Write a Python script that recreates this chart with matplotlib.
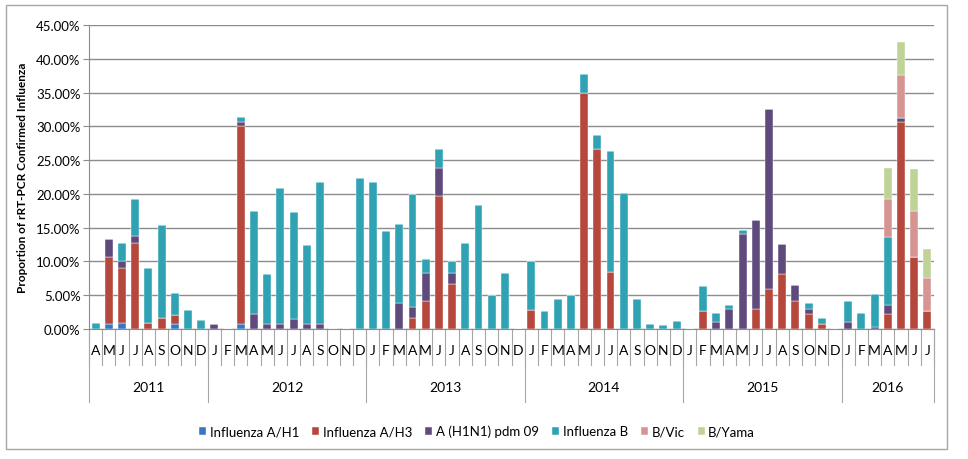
import matplotlib
matplotlib.use("Agg")
import matplotlib.pyplot as plt
import numpy as np
from matplotlib.ticker import FuncFormatter, MultipleLocator

plt.rcParams["font.family"] = ["Lato", "DejaVu Sans"]

years = ["2011", "2012", "2013", "2014", "2015", "2016"]
year_months = [
    list("AMJJASOND"),
    list("JFMAMJJASOND"),
    list("JFMAMJJASOND"),
    list("JFMAMJJASOND"),
    list("JFMAMJJASOND"),
    list("JFMAMJJ"),
]

h1 = [0, 0.8, 0.9, 0, 0, 0, 0.7, 0, 0,
      0, 0, 0.7, 0, 0, 0, 0, 0, 0, 0, 0, 0,
      0, 0, 0, 0, 0, 0, 0, 0, 0, 0, 0, 0,
      0, 0, 0, 0, 0, 0, 0, 0, 0, 0, 0, 0,
      0, 0, 0, 0, 0, 0, 0, 0, 0, 0, 0, 0,
      0, 0, 0, 0, 0, 0, 0]
h3 = [0, 9.8, 8.2, 12.8, 0.9, 1.6, 1.3, 0, 0,
      0, 0, 29.3, 0, 0, 0, 0, 0, 0, 0, 0, 0,
      0, 0, 0, 1.7, 4.1, 19.7, 6.7, 0, 0, 0, 0, 0,
      2.8, 0, 0, 0, 35.0, 26.6, 8.5, 0, 0, 0, 0, 0,
      0, 2.7, 0, 0, 0, 3.0, 5.9, 8.1, 4.1, 2.2, 0.8, 0,
      0, 0, 0, 2.2, 30.7, 10.6, 2.6]
pdm09 = [0, 2.7, 0.9, 0.9, 0, 0, 0, 0, 0,
         0.7, 0, 0.7, 2.2, 0.7, 0.7, 1.5, 0.7, 0.7, 0, 0, 0,
         0, 0, 3.9, 1.6, 4.2, 4.2, 1.6, 0, 0, 0, 0, 0,
         0, 0, 0, 0, 0, 0, 0, 0, 0, 0, 0, 0,
         0, 0, 1.1, 3.0, 14.1, 13.1, 26.7, 4.5, 2.4, 0.8, 0, 0,
         1.1, 0, 0.35, 1.3, 0.5, 0, 0]
flu_b = [0.9, 0, 2.7, 5.5, 8.1, 13.8, 3.4, 2.8, 1.4,
         0, 0, 0.7, 15.3, 7.5, 20.2, 15.8, 11.8, 21.0, 0, 0, 22.4,
         21.7, 14.5, 11.7, 16.7, 2.1, 2.8, 1.7, 12.8, 18.3, 5.0, 8.3, 0,
         7.2, 2.7, 4.5, 5.0, 2.7, 2.1, 17.9, 20.1, 4.4, 0.75, 0.55, 1.2,
         0, 3.6, 1.2, 0.6, 0.6, 0, 0, 0, 0, 0.9, 0.8, 0,
         3.1, 2.3, 4.9, 10.1, 0, 0, 0]
b_vic = [0] * 57 + [0, 0, 0, 5.7, 6.4, 6.8, 5.0]
b_yama = [0] * 57 + [0, 0, 0, 4.5, 4.9, 6.3, 4.3]

series = [
    ("Influenza A/H1", h1, "#3477c4"),
    ("Influenza A/H3", h3, "#b5473c"),
    ("A (H1N1) pdm 09", pdm09, "#5f4a7d"),
    ("Influenza B", flu_b, "#2fa2b3"),
    ("B/Vic", b_vic, "#d69592"),
    ("B/Yama", b_yama, "#bfd396"),
]

months = [m for ms in year_months for m in ms]
x = np.arange(len(months))

fig = plt.figure(figsize=(9.68, 4.60), dpi=100)
# chart border
fig.patches.append(plt.Rectangle((6 / 968, 10 / 460), 941 / 968, 444 / 460,
                                 transform=fig.transFigure, fill=False,
                                 edgecolor="#a6a6a6", linewidth=1))
ax = fig.add_axes([89 / 968, 1 - 330 / 460, 845 / 968, 304 / 460])

bottom = np.zeros(len(x))
for name, vals, color in series:
    vals = np.array(vals, dtype=float)
    ax.bar(x, vals, width=0.6, bottom=bottom, color=color, label=name,
           edgecolor="white", linewidth=0.3, zorder=3)
    bottom += vals

ax.set_xlim(-0.5, len(x) - 0.5)
ax.set_ylim(0, 45)
ax.yaxis.set_major_locator(MultipleLocator(5))
ax.yaxis.set_major_formatter(FuncFormatter(lambda v, p: f"{v:.2f}%"))
ax.grid(axis="y", color="#8c8c8c", linewidth=1, zorder=0)
for side in ["top", "right"]:
    ax.spines[side].set_visible(False)
ax.spines["left"].set_color("#8c8c8c")
ax.spines["bottom"].set_color("#8c8c8c")
ax.tick_params(axis="y", labelsize=9.5, length=4, color="#8c8c8c", pad=2)
ax.set_ylabel("Proportion of rRT-PCR Confirmed Influenza", fontsize=8.5,
              fontweight="bold", labelpad=6)

# month labels and separators
ax.set_xticks([])
xt = ax.get_xaxis_transform()
for i, m in enumerate(months):
    ax.text(i, -0.068, m, transform=xt, ha="center", va="center", fontsize=10)
for b in np.arange(-0.5, len(x) - 0.5 + 1):
    ax.plot([b, b], [0, -0.12], transform=xt, color="#a6a6a6", lw=0.8,
            clip_on=False)

# year labels and separators
start = 0
bounds = [-0.5]
for yr, ms in zip(years, year_months):
    end = start + len(ms)
    ax.text((start + end - 1) / 2, -0.19, yr, transform=xt, ha="center",
            va="center", fontsize=10)
    bounds.append(end - 0.5)
    start = end
for b in bounds:
    ax.plot([b, b], [0, -0.24], transform=xt, color="#a6a6a6", lw=0.8,
            clip_on=False)

fig.legend(loc="center", bbox_to_anchor=(477 / 968, 1 - 432 / 460), ncol=6,
           frameon=False, fontsize=9.5, handlelength=0.55, handleheight=0.55,
           handletextpad=0.25, columnspacing=1.0)

fig.savefig("out.png", dpi=100)
